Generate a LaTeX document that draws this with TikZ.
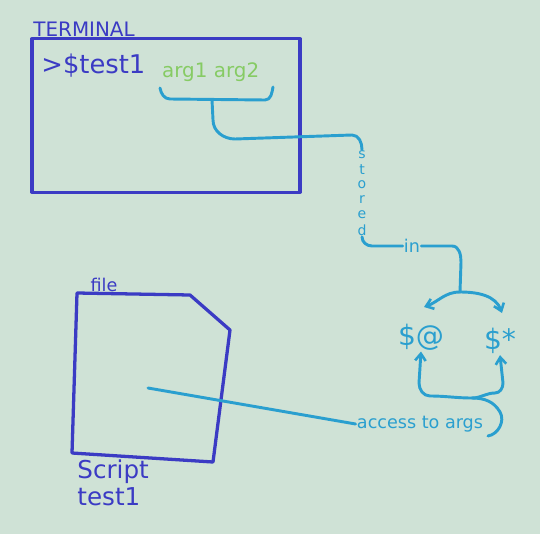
\documentclass[tikz,border=0pt]{standalone}
\usepackage{fontspec}
\setmainfont{DejaVu Sans}
\usetikzlibrary{arrows.meta}
\definecolor{board}{HTML}{CFE2D6}
\definecolor{marker}{HTML}{3B3BC4}
\definecolor{cyanpen}{HTML}{2A9FCF}
\definecolor{greenpen}{HTML}{86CB64}

\tikzset{
  bluepen/.style={draw=marker, line width=2.8pt, line join=round},
  cyanline/.style={draw=cyanpen, line width=2.5pt, line cap=round, line join=round},
  tip/.style={-{Straight Barb[length=6pt, width=9pt, line width=2.2pt]}},
  bluetext/.style={text=marker, inner sep=1pt},
  cyantext/.style={text=cyanpen, inner sep=1pt}
}

\begin{document}
\begin{tikzpicture}[x=0.03cm, y=-0.03cm]
      \fill[board] (0,0) rectangle (540,534);

      % terminal window
      \node[bluepen, minimum width=8.04cm, minimum height=4.6cm] (term) at (166,115.5) {};
      \node[bluetext, font=\fontsize{17}{17}\selectfont, anchor=south west] (termlabel) at (32,38) {TERMINAL};
      \node[bluetext, font=\fontsize{22}{22}\selectfont, anchor=west] (cmd) at (40,66) {>\$test1};
      \node[text=greenpen, font=\fontsize{17}{17}\selectfont, anchor=west] (args) at (158,72) {arg1 arg2};

      % script file
      \coordinate (f1) at (77,293);
      \coordinate (f2) at (190,295);
      \coordinate (f3) at (230,330);
      \coordinate (f4) at (213,462);
      \coordinate (f5) at (72,453);
      \draw[bluepen] (f1) -- (f2) -- (f3) -- (f4) -- (f5) -- cycle;
      \node[bluetext, font=\fontsize{15}{15}\selectfont, anchor=south] (filelabel) at (104,293) {file};
      \node[bluetext, font=\fontsize{21}{21}\selectfont, anchor=west] (script) at (76,472) {Script};
      \node[bluetext, font=\fontsize{21}{21}\selectfont, anchor=west] (scriptname) at (76,497) {test1};

      % special variables
      \node[cyantext, font=\fontsize{24}{24}\selectfont] (allargs) at (421,337) {\$@};
      \node[cyantext, font=\fontsize{24}{24}\selectfont] (starargs) at (500,341) {\$*};
      \foreach \ch [count=\i] in {s,t,o,r,e,d}
        \node[cyantext, font=\fontsize{12}{12}\selectfont] (stored\i) at (362,140+15*\i) {\ch};
      \node[cyantext, font=\fontsize{15}{15}\selectfont] (in) at (412,246) {in};
      \node[cyantext, font=\fontsize{15}{15}\selectfont] (access) at (420,424) {access to args};
      \coordinate (split) at (460,292);
      \coordinate (join) at (472,398);
      \coordinate (inscript) at (148,388);

      % connectors
      \draw[cyanline] (160,88) to[out=-80, in=180] (170,99) -- (265,100) to[out=0, in=-100] (273,87);
      \draw[cyanline] (212,100) -- (213,120) to[out=-90, in=180] (235,139) -- (352,135)
        to[out=0, in=90] (stored1.north);
      \draw[cyanline] (stored6.south) to[out=-90, in=180] (372,246) -- (in.west);
      \draw[cyanline] (in.east) -- (452,246) to[out=0, in=90] (461,262) -- (split);
      \draw[cyanline, tip] (split) to[out=180, in=20] (424,307);
      \draw[cyanline, tip] (split) to[out=0, in=110] (502,313);
      \draw[cyanline] (inscript) -- (access.west);
      \draw[cyanline] (488,436) to[out=10, in=-60] (500,412) to[out=120, in=0] (join);
      \draw[cyanline, tip] (join) to[out=180, in=0] (430,396) to[out=180, in=-90] (419,383) -- (allargs.south);
      \draw[cyanline, tip] (join) to[out=0, in=180] (495,393) to[out=0, in=-90] (503,383) -- (starargs.south);
\end{tikzpicture}
\end{document}
